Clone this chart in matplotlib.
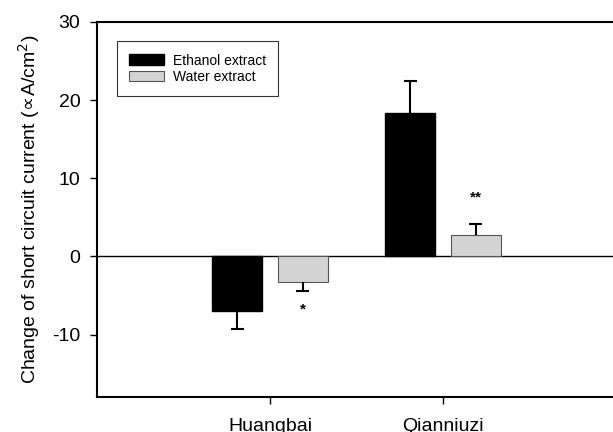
import numpy as np
import matplotlib.pyplot as plt

plt.rcParams['font.family'] = ['Liberation Sans', 'DejaVu Sans']
plt.rcParams['axes.unicode_minus'] = False

herbs = ['Huangbai', 'Qianniuzi']
ethanol = [-7.0, 18.3]
ethanol_err = [2.35, 4.1]
water = [-3.3, 2.7]
water_err = [1.15, 1.5]
stars = ['*', '**']

x = np.array([1, 2])
w = 0.289
off = 0.188

fig = plt.figure(figsize=(6.13, 4.32), dpi=100)
ax = fig.add_axes([97 / 613, 35 / 432, 519 / 613, 375 / 432])

ax.bar(x - off, ethanol, w, color='black', edgecolor='black', label='Ethanol extract',
       zorder=2)
ax.bar(x + off, water, w, color='#d3d3d3', edgecolor='#555555', linewidth=0.8,
       label='Water extract', zorder=2)


# error bars point away from zero only, cap at the outer end
def draw_err(xs, vals, errs):
    for xi, v, e in zip(xs, vals, errs):
        end = v - e if v < 0 else v + e
        ax.vlines(xi, v, end, color='black', linewidth=1.5, zorder=3)
        ax.hlines(end, xi - 0.038, xi + 0.038, color='black', linewidth=1.5, zorder=3)


draw_err(x - off, ethanol, ethanol_err)
draw_err(x + off, water, water_err)

for xi, v, e, s in zip(x + off, water, water_err, stars):
    y = v - e - 2.3 if v < 0 else v + e + 3.4
    ax.text(xi, y, s, ha='center', va='center', fontsize=11, fontweight='bold')

ax.axhline(0, color='black', linewidth=1, zorder=1)

ax.set_xlim(0, 3)
ax.set_ylim(-18, 30)
ax.set_xticks(x)
ax.set_xticklabels(herbs, fontsize=14)
ax.set_yticks([-10, 0, 10, 20, 30])
ax.tick_params(axis='y', labelsize=14, direction='out', length=5, width=1, pad=7)
ax.tick_params(axis='x', direction='out', length=5, width=1, pad=10)
for sp in ax.spines.values():
    sp.set_linewidth(1.5)
ax.spines['right'].set_visible(False)
ax.set_ylabel(r'Change of short circuit current ($\!\propto\!$A/cm$^2$)',
              fontsize=14, labelpad=7)

leg = ax.legend(loc='upper left', bbox_to_anchor=(0.0385, 0.949), borderaxespad=0,
                fontsize=10, frameon=True, fancybox=False, edgecolor='black',
                handlelength=2.5, handleheight=0.8, borderpad=0.9,
                labelspacing=0.15, handletextpad=0.6)
leg.get_frame().set_linewidth(0.8)

fig.savefig('out.png', dpi=100)
